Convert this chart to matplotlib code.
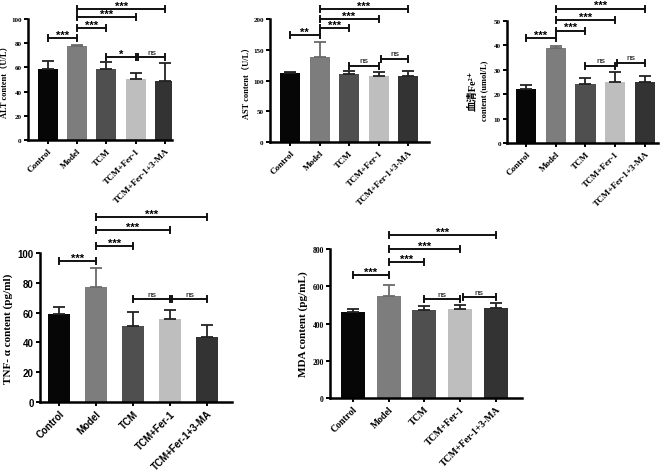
import matplotlib
matplotlib.use("Agg")
import matplotlib.pyplot as plt

categories = ['Control', 'Model', 'TCM', 'TCM+Fer-1', 'TCM+Fer-1+3-MA']
bar_colors = ['#060606', '#7d7d7d', '#4f4f4f', '#bebebe', '#333333']

alt_mean = [58.5, 77.5, 59.0, 50.5, 49.0]
alt_err = [6.5, 0.6, 5.5, 4.5, 15.0]
ast_mean = [112, 138, 111, 107, 108]
ast_err = [1.5, 25, 5, 7, 7]
fe_mean = [22.3, 39.0, 24.0, 24.8, 25.0]
fe_err = [1.3, 0.8, 2.6, 4.5, 2.6]
tnf_mean = [59.0, 77.0, 51.0, 55.5, 43.5]
tnf_err = [4.5, 13.0, 9.5, 6.5, 8.5]
mda_mean = [460, 545, 470, 478, 485]
mda_err = [20, 60, 22, 22, 25]

alt_sig = [(0, 1, 84, '***'), (1, 2, 92.5, '***'), (1, 3, 101.5, '***'), (1, 4, 108, '***'),
           (2, 3, 68.5, '*'), (3, 4, 68.5, 'ns')]
ast_sig = [(0, 1, 174, '**'), (1, 2, 185, '***'), (1, 3, 200, '***'), (1, 4, 216, '***'),
           (2, 3, 124, 'ns'), (3, 4, 135, 'ns')]
fe_sig = [(0, 1, 43, '***'), (1, 2, 46, '***'), (1, 3, 50.4, '***'), (1, 4, 55, '***'),
          (2, 3, 31.6, 'ns'), (3, 4, 32.8, 'ns')]
tnf_sig = [(0, 1, 94.6, '***'), (1, 2, 104.7, '***'), (1, 3, 115.4, '***'), (1, 4, 124, '***'),
           (2, 3, 69, 'ns'), (3, 4, 69, 'ns')]
mda_sig = [(0, 1, 660, '***'), (1, 2, 730, '***'), (1, 3, 800, '***'), (1, 4, 875, '***'),
           (2, 3, 531, 'ns'), (3, 4, 542, 'ns')]

W, H = 669, 477
fig = plt.figure(figsize=(W / 100, H / 100), dpi=100)

SERIF = ['Liberation Serif', 'Noto Sans CJK SC', 'DejaVu Sans']
SANS = ['Liberation Sans', 'DejaVu Sans']


def panel(left, right, top, bottom, xl, xr, ymax, yticks, means, errs, sigs, ylabel,
          tick_family, tick_fs, num_fs, lab_fs, barw, lab_pad):
    ax = fig.add_axes([left / W, 1 - bottom / H, (right - left) / W, (bottom - top) / H])
    x = list(range(len(categories)))
    ax.bar(x, means, width=barw, color=bar_colors, zorder=2)
    for xi, m, e, c in zip(x, means, errs, bar_colors):
        ax.errorbar([xi], [m], yerr=[[0], [e]], fmt='none',
                    ecolor='#222222' if c != '#7d7d7d' else '#6a6a6a',
                    elinewidth=1.3, capsize=4, capthick=1.3, zorder=3)
    ax.set_xlim(xl, xr)
    ax.set_ylim(0, ymax)
    ax.set_yticks(yticks)
    ax.set_yticklabels([str(t) for t in yticks], family=tick_family, fontweight='bold', fontsize=num_fs)
    ax.set_xticks(x)
    ax.set_xticklabels(categories, rotation=45, ha='right', rotation_mode='anchor',
                       family=tick_family, fontweight='bold', fontsize=tick_fs)
    for s in ['top', 'right']:
        ax.spines[s].set_visible(False)
    for s in ['left', 'bottom']:
        ax.spines[s].set_linewidth(1.8)
    ax.tick_params(axis='both', length=3, width=1.4, pad=1.5)
    if ylabel:
        ax.set_ylabel(ylabel, family=SERIF, fontweight='bold', fontsize=lab_fs, labelpad=lab_pad)
    hpx = bottom - top
    half = 3.0 / hpx * ymax
    gap = 1.5 / hpx * ymax
    for i, j, y, lab in sigs:
        xi = i + (0.07 if (i == 3 and j == 4) else 0)
        xj = j
        ax.plot([xi, xj], [y, y], color='#111111', lw=1.4, clip_on=False, zorder=4)
        ax.plot([xi, xi], [y - half, y + half], color='#111111', lw=1.4, clip_on=False, zorder=4)
        ax.plot([xj, xj], [y - half, y + half], color='#111111', lw=1.4, clip_on=False, zorder=4)
        if lab == 'ns':
            ax.text((xi + xj) / 2, y + gap, lab, ha='center', va='bottom', fontsize=6,
                    family=SANS, clip_on=False)
        else:
            ax.text((xi + xj) / 2, y - 1.0 * gap, lab, ha='center', va='bottom', fontsize=8,
                    fontweight='bold', family=SANS, clip_on=False)
    return ax


panel(28, 172, 20, 141, -0.68, 4.24, 100, [0, 20, 40, 60, 80, 100], alt_mean, alt_err, alt_sig,
      'ALT content（U/L）', SERIF, 6.5, 5, 6, 0.68, 2)
panel(270, 429, 20, 143, -0.68, 4.71, 200, [0, 50, 100, 150, 200], ast_mean, ast_err, ast_sig,
      'AST content（U/L）', SERIF, 6.5, 5, 6, 0.68, 2)
ax3 = panel(507, 658, 22, 144, -0.64, 4.44, 50, [0, 10, 20, 30, 40, 50], fe_mean, fe_err, fe_sig,
            None, SERIF, 6.5, 5, 6, 0.68, 2)
ax3.text(473 / W, 1 - 91 / H, '血清Fe²⁺', transform=fig.transFigure, rotation=90,
         ha='center', va='center', fontsize=7.5, fontweight='bold',
         family=['Liberation Serif', 'Noto Sans CJK SC', 'DejaVu Sans'])
ax3.text(484 / W, 1 - 91 / H, 'content (umol/L)', transform=fig.transFigure, rotation=90,
         ha='center', va='center', fontsize=6, fontweight='bold', family=SERIF)
panel(40, 232, 254, 403, -0.51, 4.68, 100, [0, 20, 40, 60, 80, 100], tnf_mean, tnf_err, tnf_sig,
      'TNF- α content (pg/ml)', SANS, 7, 7, 8, 0.6, 3)
panel(330, 522, 250, 399, -0.64, 4.73, 800, [0, 200, 400, 600, 800], mda_mean, mda_err, mda_sig,
      'MDA content (pg/mL)', SERIF, 7, 5.5, 8, 0.67, 3)

fig.savefig('out.png', dpi=100)
